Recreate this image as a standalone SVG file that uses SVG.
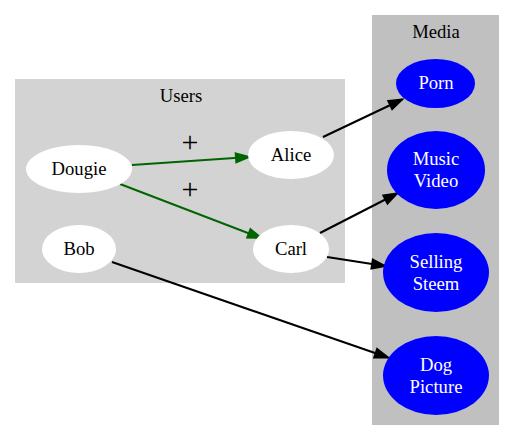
<svg xmlns="http://www.w3.org/2000/svg" width="515" height="441" viewBox="0 0 515 441" font-family="Liberation Serif, Times New Roman, serif" font-size="18.67" text-anchor="middle">
<style>
.u ellipse{fill:#fff}
.u text{fill:#000}
.m ellipse{fill:#0000ff}
.m text{fill:#fff}
.e{fill:none;stroke-width:2}
.g{stroke:#006400}
.k{stroke:#000}
.p{font-size:30px;fill:#000}
</style>
<defs>
<marker id="ag" markerUnits="userSpaceOnUse" markerWidth="18" markerHeight="14" refX="15" refY="7" orient="auto"><path d="M2,2.5 L15,7 L2,11.5 z" fill="#006400" stroke="#006400" stroke-width="2"/></marker>
<marker id="ak" markerUnits="userSpaceOnUse" markerWidth="18" markerHeight="14" refX="15" refY="7" orient="auto"><path d="M2,2.5 L15,7 L2,11.5 z" fill="#000" stroke="#000" stroke-width="2"/></marker>
</defs>
<rect width="515" height="441" fill="#fff"/>
<g id="cluster_users">
<rect x="15" y="79" width="330" height="204" fill="#d3d3d3"/>
<text x="181" y="102">Users</text>
</g>
<g id="cluster_media">
<rect x="372" y="15" width="127" height="410" fill="#c0c0c0"/>
<text x="436" y="38">Media</text>
</g>
<g id="connectors">
<path class="e g" d="M132,165 L249,157" marker-end="url(#ag)"/>
<path class="e g" d="M120,184 L261,238" marker-end="url(#ag)"/>
<path class="e k" d="M323,137 L402,99.5" marker-end="url(#ak)"/>
<path class="e k" d="M320,233 L397,193.5" marker-end="url(#ak)"/>
<path class="e k" d="M327,257 L385,266" marker-end="url(#ak)"/>
<path class="e k" d="M112,262 L388,357.5" marker-end="url(#ak)"/>
<text class="p" x="190" y="152">+</text>
<text class="p" x="190" y="199">+</text>
</g>
<g id="dougie" class="u"><ellipse cx="79" cy="169" rx="53" ry="24"/><text x="79" y="175">Dougie</text></g>
<g id="alice" class="u"><ellipse cx="291" cy="155" rx="43" ry="24"/><text x="291" y="161">Alice</text></g>
<g id="bob" class="u"><ellipse cx="79" cy="249" rx="37" ry="24"/><text x="79" y="255">Bob</text></g>
<g id="carl" class="u"><ellipse cx="291" cy="249" rx="38" ry="24"/><text x="291" y="255">Carl</text></g>
<g id="porn" class="m"><ellipse cx="435.5" cy="83.5" rx="39.5" ry="24.5"/><text x="436" y="89">Porn</text></g>
<g id="music_video" class="m"><ellipse cx="436" cy="170" rx="49" ry="39"/><text x="436" y="165">Music</text><text x="436" y="187">Video</text></g>
<g id="selling_steem" class="m"><ellipse cx="436" cy="272.5" rx="53" ry="39.5"/><text x="436" y="268">Selling</text><text x="436" y="290">Steem</text></g>
<g id="dog_picture" class="m"><ellipse cx="436" cy="375.5" rx="53" ry="39.5"/><text x="436" y="371">Dog</text><text x="436" y="393">Picture</text></g>
</svg>
